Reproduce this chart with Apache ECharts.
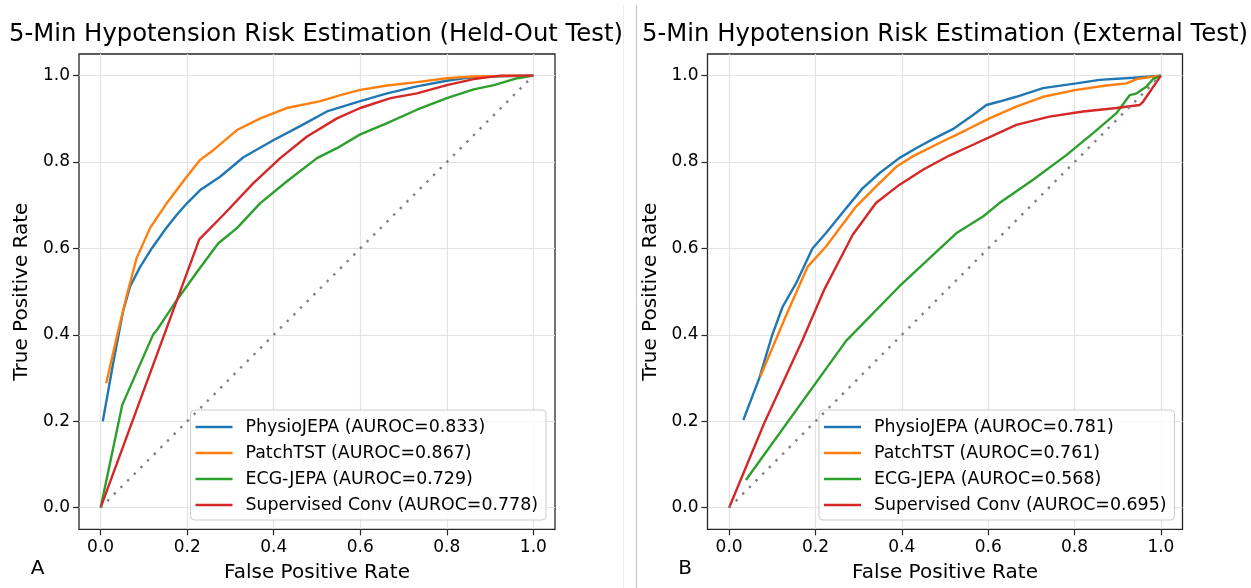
<!DOCTYPE html>
<html>
<head>
<meta charset="utf-8">
<script src="https://cdn.jsdelivr.net/npm/echarts@6/dist/echarts.min.js"></script>
<style>
html,body{margin:0;padding:0;background:#fff;}
#chart{width:1251px;height:588px;}
</style>
</head>
<body>
<div id="chart"></div>
<script>
// ---- Data ----
const panelTitles = ['5-Min Hypotension Risk Estimation (Held-Out Test)', '5-Min Hypotension Risk Estimation (External Test)'];
const panelLetters = ['A', 'B'];
const modelNames = ['PhysioJEPA', 'PatchTST', 'ECG-JEPA', 'Supervised Conv'];
const aurocHeld = ['0.833', '0.867', '0.729', '0.778'];
const aurocExt = ['0.781', '0.761', '0.568', '0.695'];
const tickValues = [0, 0.2, 0.4, 0.6, 0.8, 1.0];

const heldPhysio = [[0.005,0.2],[0.03,0.34],[0.052,0.455],[0.068,0.512],[0.09,0.555],[0.118,0.6],[0.15,0.645],[0.176,0.678],[0.2,0.705],[0.23,0.735],[0.276,0.766],[0.33,0.811],[0.4,0.851],[0.461,0.883],[0.523,0.917],[0.6,0.941],[0.662,0.959],[0.731,0.975],[0.8,0.988],[0.847,0.995],[0.9,0.998],[1,1]];
const heldPatch = [[0.013,0.288],[0.041,0.411],[0.06,0.49],[0.083,0.577],[0.114,0.647],[0.153,0.705],[0.199,0.766],[0.23,0.805],[0.261,0.828],[0.315,0.874],[0.369,0.901],[0.43,0.925],[0.508,0.941],[0.554,0.955],[0.6,0.967],[0.662,0.977],[0.731,0.985],[0.8,0.994],[0.862,0.998],[1,1]];
const heldECG = [[0,0],[0.05,0.238],[0.121,0.4],[0.13,0.411],[0.171,0.473],[0.226,0.55],[0.272,0.612],[0.315,0.647],[0.369,0.705],[0.43,0.755],[0.5,0.809],[0.546,0.832],[0.6,0.864],[0.662,0.89],[0.731,0.921],[0.8,0.948],[0.862,0.968],[0.909,0.978],[0.963,0.994],[1,1]];
const heldSup = [[0,0],[0.228,0.621],[0.284,0.678],[0.353,0.751],[0.415,0.809],[0.477,0.859],[0.546,0.901],[0.6,0.925],[0.67,0.948],[0.731,0.959],[0.8,0.978],[0.862,0.992],[0.924,1.0],[1,1]];

const extPhysio = [[0.033,0.203],[0.07,0.3],[0.1,0.4],[0.124,0.465],[0.155,0.519],[0.193,0.6],[0.224,0.635],[0.271,0.693],[0.309,0.739],[0.348,0.774],[0.394,0.809],[0.433,0.832],[0.472,0.853],[0.518,0.876],[0.565,0.909],[0.596,0.932],[0.626,0.94],[0.665,0.951],[0.727,0.971],[0.804,0.982],[0.858,0.99],[0.936,0.995],[1,1]];
const extPatch = [[0.072,0.303],[0.13,0.44],[0.182,0.558],[0.224,0.604],[0.294,0.697],[0.34,0.743],[0.387,0.789],[0.425,0.813],[0.487,0.844],[0.549,0.874],[0.603,0.901],[0.665,0.928],[0.727,0.951],[0.804,0.967],[0.874,0.977],[0.92,0.982],[0.944,0.992],[1,1]];
const extECG = [[0.039,0.064],[0.271,0.386],[0.394,0.512],[0.526,0.635],[0.588,0.674],[0.626,0.705],[0.704,0.759],[0.781,0.816],[0.843,0.867],[0.897,0.913],[0.928,0.955],[0.944,0.959],[0.967,0.975],[0.982,0.992],[1,1]];
const extSup = [[0,0],[0.081,0.195],[0.17,0.388],[0.22,0.504],[0.286,0.631],[0.34,0.705],[0.394,0.747],[0.449,0.782],[0.51,0.815],[0.565,0.84],[0.626,0.868],[0.665,0.886],[0.742,0.905],[0.82,0.917],[0.897,0.925],[0.951,0.932],[0.959,0.94],[1,1]];
const chanceLine = [[0,0],[1,1]];

const colors = ['#1f77b4', '#ff7f0e', '#2ca02c', '#d62728'];
const FONT = 'DejaVu Sans';

// ---- Build option ----
const panels = [
  {data: [heldPhysio, heldPatch, heldECG, heldSup], auroc: aurocHeld},
  {data: [extPhysio, extPatch, extECG, extSup], auroc: aurocExt}
];
const gridDefs = [
  {left: 79, right: 696, top: 54, bottom: 58.7},
  {left: 707.5, right: 68.5, top: 54, bottom: 58.7}
];

const grids = gridDefs.map(g => Object.assign({
  show: true, borderColor: '#262626', borderWidth: 1.3, backgroundColor: 'transparent', containLabel: false
}, g));

function makeAxis(i, isX) {
  return {
    type: 'value', gridIndex: i, min: -0.05, max: 1.05,
    name: isX ? 'False Positive Rate' : 'True Positive Rate',
    nameLocation: 'middle', nameGap: isX ? 33 : 47,
    nameTextStyle: {fontFamily: FONT, fontSize: 20, color: '#000'},
    axisLine: {show: false, onZero: false},
    axisTick: {show: true, length: 6, customValues: tickValues, lineStyle: {color: '#262626', width: 1.2}},
    axisLabel: {show: true, customValues: tickValues, margin: isX ? 10 : 9, fontFamily: FONT, fontSize: 17, color: '#000',
      formatter: v => v.toFixed(1)},
    splitLine: {show: true, lineStyle: {color: '#e3e3e3', width: 1.2}}
  };
}

const series = [];
panels.forEach((p, pi) => {
  p.data.forEach((d, si) => {
    series.push({
      type: 'line', name: modelNames[si] + ' (AUROC=' + p.auroc[si] + ')',
      xAxisIndex: pi, yAxisIndex: pi, data: d, symbol: 'none', smooth: false,
      lineStyle: {color: colors[si], width: 2.4}, itemStyle: {color: colors[si]},
      z: 3 + si, silent: true, animation: false
    });
  });
  series.push({
    type: 'line', name: 'chance' + pi, xAxisIndex: pi, yAxisIndex: pi, data: chanceLine,
    symbol: 'none', lineStyle: {color: '#808080', width: 2.4, type: [2.4, 7], cap: 'butt'}, z: 10, silent: true, animation: false
  });
});

const legends = panels.map((p, pi) => ({
  orient: 'vertical',
  left: pi === 0 ? 190.5 : 819, top: 410,
  data: modelNames.map((m, si) => m + ' (AUROC=' + p.auroc[si] + ')'),
  icon: 'rect',
  itemWidth: 37, itemHeight: 2.6, itemGap: 6,
  padding: [7, 8, 5, 5],
  backgroundColor: 'rgba(255,255,255,0.8)', borderColor: '#cccccc', borderWidth: 1, borderRadius: 4,
  textStyle: {fontFamily: FONT, fontSize: 17.4, color: '#000', lineHeight: 20, padding: [0, 0, 0, 8]},
  selectedMode: false
}));

const graphics = [
  {type: 'line', shape: {x1: 623.5, y1: 5, x2: 623.5, y2: 588}, style: {stroke: '#ececec', lineWidth: 1}},
  {type: 'line', shape: {x1: 636.5, y1: 5, x2: 636.5, y2: 588}, style: {stroke: '#c4c4c4', lineWidth: 1}},
  {type: 'text', x: 316, y: 35, style: {text: panelTitles[0], font: '24.3px "DejaVu Sans"', fill: '#000', textAlign: 'center', textVerticalAlign: 'middle'}},
  {type: 'text', x: 945, y: 35, style: {text: panelTitles[1], font: '24.3px "DejaVu Sans"', fill: '#000', textAlign: 'center', textVerticalAlign: 'middle'}},
  {type: 'text', x: 37.5, y: 569, style: {text: panelLetters[0], font: '20px "DejaVu Sans"', fill: '#000', textAlign: 'center', textVerticalAlign: 'middle'}},
  {type: 'text', x: 685, y: 569, style: {text: panelLetters[1], font: '20px "DejaVu Sans"', fill: '#000', textAlign: 'center', textVerticalAlign: 'middle'}}
];

const option = {
  animation: false,
  backgroundColor: '#ffffff',
  grid: grids,
  xAxis: [makeAxis(0, true), makeAxis(1, true)],
  yAxis: [makeAxis(0, false), makeAxis(1, false)],
  legend: legends,
  series: series,
  graphic: graphics
};

const chart = echarts.init(document.getElementById('chart'), null, {renderer: 'canvas'});
chart.setOption(option);
</script>
</body>
</html>
